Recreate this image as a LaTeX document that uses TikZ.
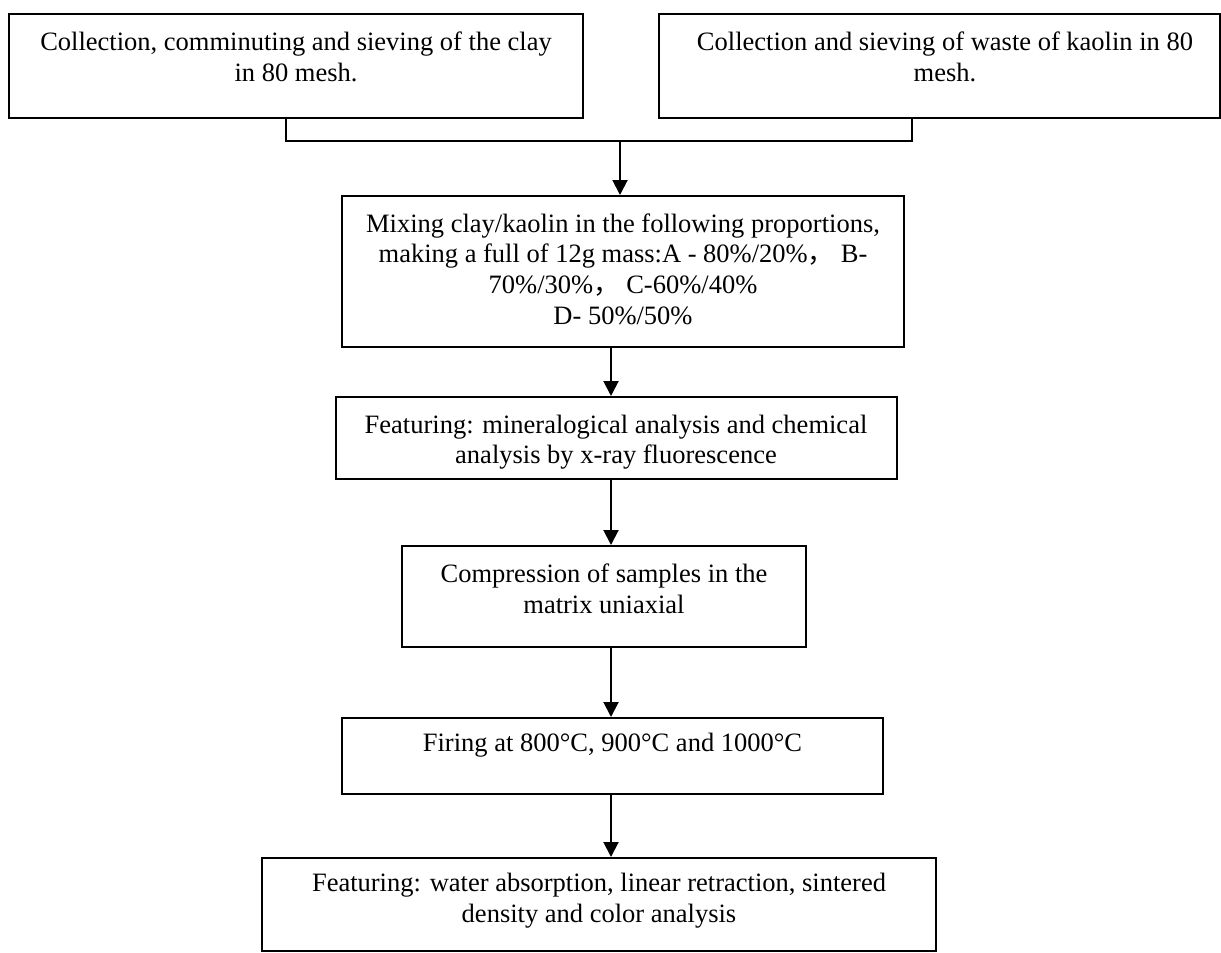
\documentclass[tikz,border=0pt]{standalone}
\usepackage{fontspec}
\setmainfont{Liberation Serif}
\newfontfamily\cjk{Noto Sans CJK SC}
\usetikzlibrary{arrows.meta}
\tikzset{
  box/.style={draw, line width=1pt, inner sep=0pt, fill=white},
  txt/.style={align=center, inner sep=0pt, font=\fontsize{13.25pt}{15.3pt}\selectfont},
  conn/.style={line width=1pt},
  arr/.style={line width=1pt, -{Triangle[width=7.5pt,length=7.5pt]}}
}
\begin{document}
\begin{tikzpicture}[x=0.5pt,y=-0.5pt]
\useasboundingbox (0,0) rectangle (1221,953);
% boxes
\node[box, minimum width=287pt, minimum height=52pt] (b1) at (296,66) {};
\node[box, minimum width=280.5pt, minimum height=52pt] (b2) at (939.5,66) {};
\node[box, minimum width=281pt, minimum height=75.5pt] (b3) at (623,271.5) {};
\node[box, minimum width=280.5pt, minimum height=41pt] (b4) at (616.5,438) {};
\node[box, minimum width=202pt, minimum height=50.5pt] (b5) at (604,596.5) {};
\node[box, minimum width=270.5pt, minimum height=38pt] (b6) at (612.5,756) {};
\node[box, minimum width=337pt, minimum height=46.5pt] (b7) at (599,904.5) {};
% texts
\node[txt] (t1) at (296,57) {Collection, comminuting and sieving of the clay\\in 80 mesh.};
\node[txt] (t2) at (945,57) {Collection and sieving of waste of kaolin in 80\\mesh.};
\node[txt] (t3) at (623,269) {Mixing clay/kaolin in the following proportions,\\making a full of 12g mass:A - 80\%/20\%{\cjk ，} B-\\70\%/30\%{\cjk ，} C-60\%/40\%\\D- 50\%/50\%};
\node[txt] (t4) at (616,442) {Featuring: mineralogical analysis and chemical\\analysis by x-ray fluorescence};
\node[txt] (t5) at (604,589) {Compression of samples in the\\matrix uniaxial};
\node[txt] (t6) at (612.5,745) {Firing at 800°C, 900°C and 1000°C};
\node[txt] (t7) at (599,900.5) {Featuring: water absorption, linear retraction, sintered\\density and color analysis};
% connectors
\coordinate (j1) at (286,141);
\coordinate (j2) at (912,141);
\coordinate (j0) at (620,141);
\coordinate (ax) at (611,0);
\draw[conn] (b1.south -| j1) -- (j1) -- (j2) -- (b2.south -| j2);
\draw[arr] (j0) -- (b3.north -| j0);
\draw[arr] (b3.south -| ax) -- (b4.north -| ax);
\draw[arr] (b4.south -| ax) -- (b5.north -| ax);
\draw[arr] (b5.south -| ax) -- (b6.north -| ax);
\draw[arr] (b6.south -| ax) -- (b7.north -| ax);
\end{tikzpicture}
\end{document}
